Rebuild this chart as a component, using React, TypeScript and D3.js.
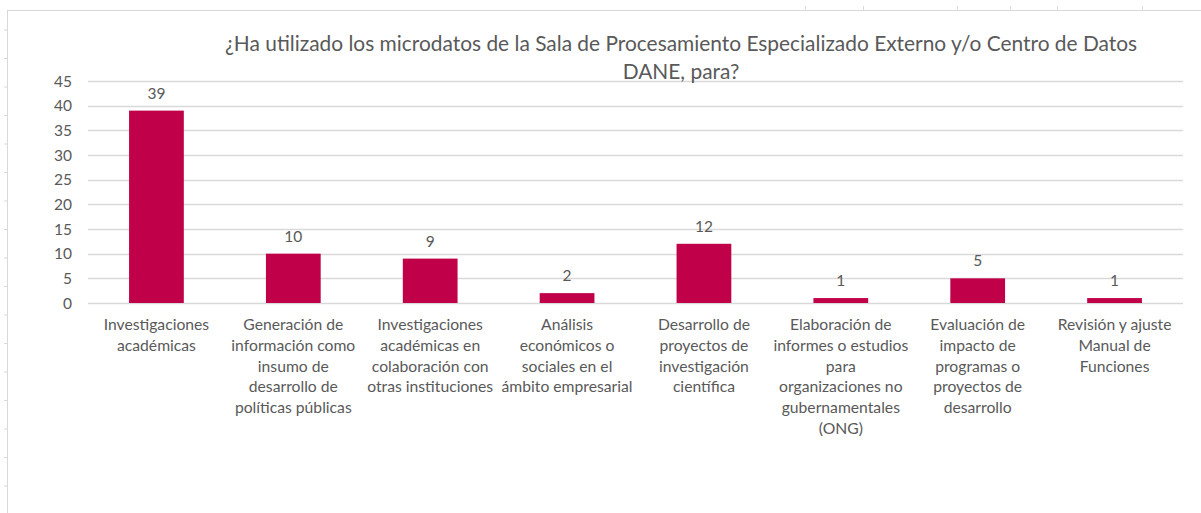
import React, { useEffect, useRef } from 'react';
import * as d3 from 'd3';

const categories: string[][] = [
  ['Investigaciones', 'académicas'],
  ['Generación de', 'información como', 'insumo de', 'desarrollo de', 'políticas públicas'],
  ['Investigaciones', 'académicas en', 'colaboración con', 'otras instituciones'],
  ['Análisis', 'económicos o', 'sociales en el', 'ámbito empresarial'],
  ['Desarrollo de', 'proyectos de', 'investigación', 'científica'],
  ['Elaboración de', 'informes o estudios', 'para', 'organizaciones no', 'gubernamentales', '(ONG)'],
  ['Evaluación de', 'impacto de', 'programas o', 'proyectos de', 'desarrollo'],
  ['Revisión y ajuste', 'Manual de', 'Funciones'],
];
const values = [39, 10, 9, 2, 12, 1, 5, 1];
const yTicks = [0, 5, 10, 15, 20, 25, 30, 35, 40, 45];
const titleLines = [
  '¿Ha utilizado los microdatos de la Sala de Procesamiento Especializado Externo y/o Centro de Datos',
  'DANE, para?',
];

const App = () => {
  const svgRef = useRef<SVGSVGElement>(null);

  useEffect(() => {
    const width = 1201;
    const height = 513;
    const font = 'Lato, "Open Sans", sans-serif';
    const textColor = '#595959';
    const margin = { left: 88, right: 18, top: 81, bottom: 210 };

    const svg = d3.select(svgRef.current)
      .attr('width', width)
      .attr('height', height);
    svg.selectAll('*').remove();

    svg.append('rect').attr('width', width).attr('height', height).attr('fill', '#fff');

    // spreadsheet frame behind the chart
    const frame = svg.append('g').attr('stroke', '#d9d9d9').attr('fill', 'none');
    frame.append('line').attr('x1', 7).attr('x2', width).attr('y1', 10.5).attr('y2', 10.5);
    frame.append('line').attr('x1', 7.5).attr('x2', 7.5).attr('y1', 10).attr('y2', height);
    d3.range(30, height, 28.5).forEach(y => {
      frame.append('line').attr('x1', 4).attr('x2', 7).attr('y1', y).attr('y2', y);
    });
    [805, 863, 957, 1010, 1057, 1142].forEach(x => {
      frame.append('line').attr('x1', x + 0.5).attr('x2', x + 0.5).attr('y1', 6).attr('y2', 10);
    });

    const x = d3.scaleBand<number>()
      .domain(d3.range(values.length))
      .range([margin.left, width - margin.right])
      .paddingInner(0.6)
      .paddingOuter(0.3);

    const y = d3.scaleLinear()
      .domain([0, 45])
      .range([height - margin.bottom, margin.top]);

    // gridlines
    svg.append('g')
      .selectAll('line')
      .data(yTicks)
      .join('line')
      .attr('x1', margin.left)
      .attr('x2', width - margin.right)
      .attr('y1', d => Math.round(y(d)) + 0.5)
      .attr('y2', d => Math.round(y(d)) + 0.5)
      .attr('stroke', '#d9d9d9')
      .attr('stroke-width', 1.3);

    svg.append('g')
      .selectAll('text')
      .data(yTicks)
      .join('text')
      .attr('x', 72)
      .attr('y', d => y(d) + 5.5)
      .attr('text-anchor', 'end')
      .attr('font-family', font)
      .attr('font-size', 15.5)
      .attr('fill', textColor)
      .text(d => d);

    svg.append('g')
      .selectAll('rect')
      .data(values)
      .join('rect')
      .attr('x', (d, i) => x(i)!)
      .attr('y', d => y(d))
      .attr('width', x.bandwidth())
      .attr('height', d => y(0) - y(d))
      .attr('fill', '#C00048');

    svg.append('g')
      .selectAll('text')
      .data(values)
      .join('text')
      .attr('x', (d, i) => x(i)! + x.bandwidth() / 2)
      .attr('y', d => y(d) - 12)
      .attr('text-anchor', 'middle')
      .attr('font-family', font)
      .attr('font-size', 15.5)
      .attr('fill', textColor)
      .text(d => d);

    const labels = svg.append('g')
      .selectAll('text')
      .data(categories)
      .join('text')
      .attr('text-anchor', 'middle')
      .attr('font-family', font)
      .attr('font-size', 15.7)
      .attr('fill', textColor);
    labels.selectAll('tspan')
      .data((d, i) => d.map(line => ({ line, i })))
      .join('tspan')
      .attr('x', d => x(d.i)! + x.bandwidth() / 2)
      .attr('y', (d, j) => y(0) + 27 + j * 20.8)
      .text(d => d.line);

    svg.append('g')
      .selectAll('text')
      .data(titleLines)
      .join('text')
      .attr('x', 681)
      .attr('y', (d, i) => 51 + i * 28)
      .attr('text-anchor', 'middle')
      .attr('font-family', font)
      .attr('font-size', 20.9)
      .attr('fill', textColor)
      .text(d => d);
  }, []);

  return (
    <div style={{ position: 'absolute', left: 0, top: 0 }}>
      <svg ref={svgRef} style={{ display: 'block' }}></svg>
    </div>
  );
};

export default App;
